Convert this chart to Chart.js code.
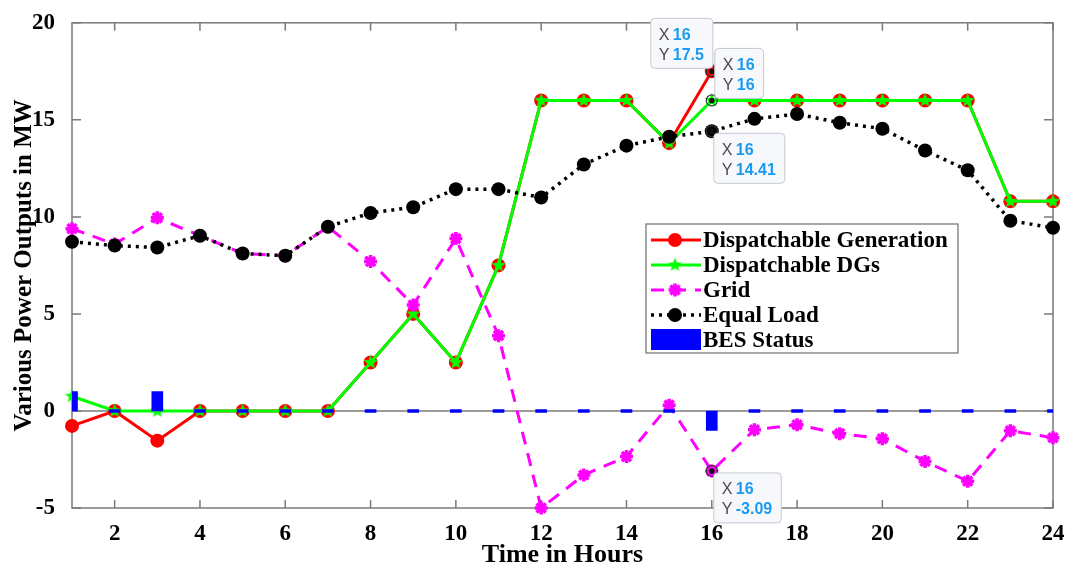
<!DOCTYPE html>
<html>
<head>
<meta charset="utf-8">
<script src="https://cdn.jsdelivr.net/npm/chart.js@4.4.1/dist/chart.umd.min.js"></script>
<style>
body { margin: 0; background: #fff; }
#wrap { width: 1069px; height: 568px; }
</style>
</head>
<body>
<div id="wrap"><canvas id="powerChart"></canvas></div>
<script>
const hours = [1, 2, 3, 4, 5, 6, 7, 8, 9, 10, 11, 12, 13, 14, 15, 16, 17, 18, 19, 20, 21, 22, 23, 24];
const dispGen = [-0.77, 0, -1.53, 0, 0, 0, 0, 2.5, 5, 2.5, 7.5, 16, 16, 16, 13.8, 17.5, 16, 16, 16, 16, 16, 16, 10.8, 10.8];
const dispDG = [0.76, 0, 0, 0, 0, 0, 0, 2.5, 5, 2.5, 7.5, 16, 16, 16, 13.8, 16, 16, 16, 16, 16, 16, 16, 10.8, 10.8];
const gridPower = [9.39, 8.6, 9.95, 9.03, 8.11, 8.0, 9.49, 7.7, 5.46, 8.88, 3.88, -5.0, -3.3, -2.35, 0.3, -3.09, -0.97, -0.71, -1.17, -1.43, -2.6, -3.62, -1.02, -1.38];
const equalLoad = [8.72, 8.52, 8.42, 9.03, 8.11, 8.0, 9.49, 10.2, 10.5, 11.43, 11.43, 11.0, 12.7, 13.67, 14.13, 14.41, 15.05, 15.3, 14.85, 14.54, 13.42, 12.4, 9.8, 9.44];
const besStatus = [1, 0, 1, 0, 0, 0, 0, 0, 0, 0, 0, 0, 0, 0, 0, -1, 0, 0, 0, 0, 0, 0, 0, 0];
const xTicks = [2, 4, 6, 8, 10, 12, 14, 16, 18, 20, 22, 24];
const yTicks = [-5, 0, 5, 10, 15, 20];
// data tips: dataset index, hour
const tipSeries = [0, 1, 3, 2];
const tipHour = 16;

const serif = '"Liberation Serif", "Times New Roman", serif';

function pts(arr) {
    return hours.map((h, i) => ({ x: h, y: arr[i] }));
}

function makePentagram(r, fill) {
    const c = document.createElement('canvas');
    const s = Math.ceil(r * 2 + 2);
    c.width = s; c.height = s;
    const g = c.getContext('2d');
    g.beginPath();
    for (let i = 0; i < 10; i++) {
        const rad = i % 2 === 0 ? r : r * 0.42;
        const a = -Math.PI / 2 + i * Math.PI / 5;
        g.lineTo(s / 2 + rad * Math.cos(a), s / 2 + rad * Math.sin(a));
    }
    g.closePath();
    g.fillStyle = fill;
    g.fill();
    return c;
}
const greenStar = makePentagram(7.5, '#00ff00');

function drawMarker(ctx, ds, x, y) {
    ctx.save();
    ctx.setLineDash([]);
    if (ds.pointStyle === 'circle') {
        ctx.beginPath();
        ctx.arc(x, y, ds.pointRadius, 0, Math.PI * 2);
        ctx.fillStyle = ds.pointBackgroundColor;
        ctx.fill();
    } else if (ds.pointStyle === 'star') {
        const r = ds.pointRadius;
        ctx.strokeStyle = ds.pointBorderColor;
        ctx.lineWidth = ds.pointBorderWidth;
        ctx.beginPath();
        for (let i = 0; i < 4; i++) {
            const a = i * Math.PI / 4;
            ctx.moveTo(x - r * Math.cos(a), y - r * Math.sin(a));
            ctx.lineTo(x + r * Math.cos(a), y + r * Math.sin(a));
        }
        ctx.stroke();
    } else if (ds.pointStyle instanceof HTMLCanvasElement) {
        const c = ds.pointStyle;
        ctx.drawImage(c, x - c.width / 2, y - c.height / 2);
    }
    ctx.restore();
}

const framePlugin = {
    id: 'frame',
    beforeDatasetsDraw(chart) {
        const { ctx, chartArea: a, scales: { x, y } } = chart;
        ctx.save();
        ctx.strokeStyle = '#7a7a7a';
        ctx.lineWidth = 1.5;
        const y0 = y.getPixelForValue(0);
        ctx.beginPath();
        ctx.moveTo(a.left, y0);
        ctx.lineTo(a.right, y0);
        ctx.stroke();
        ctx.strokeRect(a.left, a.top, a.right - a.left, a.bottom - a.top);
        ctx.beginPath();
        xTicks.forEach(v => {
            const px = x.getPixelForValue(v);
            ctx.moveTo(px, a.bottom); ctx.lineTo(px, a.bottom - 8);
            ctx.moveTo(px, a.top); ctx.lineTo(px, a.top + 8);
        });
        yTicks.forEach(v => {
            const py = y.getPixelForValue(v);
            ctx.moveTo(a.left, py); ctx.lineTo(a.left + 9, py);
            ctx.moveTo(a.right, py); ctx.lineTo(a.right - 9, py);
        });
        ctx.stroke();
        ctx.restore();
    }
};

const legendPlugin = {
    id: 'boxLegend',
    afterDraw(chart) {
        const ctx = chart.ctx;
        const left = 646, top = 224, w = 312, h = 129;
        ctx.save();
        ctx.fillStyle = '#fff';
        ctx.fillRect(left, top, w, h);
        ctx.strokeStyle = '#6e6e6e';
        ctx.lineWidth = 1.2;
        ctx.strokeRect(left, top, w, h);
        ctx.font = 'bold 23px ' + serif;
        ctx.textBaseline = 'middle';
        chart.data.datasets.forEach((ds, i) => {
            const ry = top + 16 + i * 25;
            if (ds.type === 'bar') {
                ctx.fillStyle = ds.backgroundColor;
                ctx.fillRect(left + 5, ry - 11, 50, 21);
            } else {
                ctx.strokeStyle = ds.borderColor;
                ctx.lineWidth = ds.borderWidth;
                ctx.setLineDash(ds.borderDash || []);
                ctx.beginPath();
                ctx.moveTo(left + 5, ry);
                ctx.lineTo(left + 55, ry);
                ctx.stroke();
                ctx.setLineDash([]);
                drawMarker(ctx, ds, left + 29, ry);
            }
            ctx.fillStyle = '#000';
            ctx.fillText(ds.label, left + 57, ry + 1);
        });
        ctx.restore();
    }
};

const tipOffsets = [[-61, -53], [3, -52], [2, 2], [2, 2]];

const tipPlugin = {
    id: 'dataTips',
    afterDraw(chart) {
        const { ctx, scales: { x, y } } = chart;
        const idx = hours.indexOf(tipHour);
        tipSeries.forEach((si, k) => {
            const ds = chart.data.datasets[si];
            const val = ds.data[idx].y;
            const px = x.getPixelForValue(tipHour);
            const py = y.getPixelForValue(val);
            ctx.save();
            ctx.beginPath();
            ctx.arc(px, py, 5.5, 0, Math.PI * 2);
            ctx.strokeStyle = '#333';
            ctx.lineWidth = 1.2;
            ctx.stroke();
            ctx.beginPath();
            ctx.arc(px, py, 2.8, 0, Math.PI * 2);
            ctx.fillStyle = '#111';
            ctx.fill();

            const xs = String(tipHour), ys = String(val);
            ctx.font = 'bold 16px "Liberation Sans", Arial, sans-serif';
            const tw = Math.max(ctx.measureText(xs).width, ctx.measureText(ys).width);
            const bw = 23 + tw + 8, bh = 50;
            const bx = px + tipOffsets[k][0], by = py + tipOffsets[k][1];
            ctx.beginPath();
            ctx.roundRect(bx, by, bw, bh, 4);
            ctx.fillStyle = '#f7f8fc';
            ctx.fill();
            ctx.strokeStyle = '#c6c8d0';
            ctx.lineWidth = 1;
            ctx.stroke();
            ctx.textBaseline = 'middle';
            ctx.font = '16px "Liberation Sans", Arial, sans-serif';
            ctx.fillStyle = '#4a4a4a';
            ctx.fillText('X', bx + 8, by + 17);
            ctx.fillText('Y', bx + 8, by + 37);
            ctx.font = 'bold 16px "Liberation Sans", Arial, sans-serif';
            ctx.fillStyle = '#1a9af0';
            ctx.fillText(xs, bx + 22, by + 17);
            ctx.fillText(ys, bx + 22, by + 37);
            ctx.restore();
        });
    }
};

const ctx = document.getElementById('powerChart').getContext('2d');
new Chart(ctx, {
    data: {
        datasets: [
            {
                type: 'line', label: 'Dispatchable Generation', data: pts(dispGen),
                borderColor: '#ff0000', borderWidth: 3, order: 5, clip: false,
                pointStyle: 'circle', pointRadius: 7, pointBackgroundColor: '#ff0000',
                pointBorderColor: '#ff0000', pointBorderWidth: 0
            },
            {
                type: 'line', label: 'Dispatchable DGs', data: pts(dispDG),
                borderColor: '#00ff00', borderWidth: 3, order: 4, clip: false,
                pointStyle: greenStar, pointRadius: 7
            },
            {
                type: 'line', label: 'Grid', data: pts(gridPower),
                borderColor: '#ff00ff', borderWidth: 3, borderDash: [13, 9], order: 3, clip: false,
                pointStyle: 'star', pointRadius: 6.5, pointBorderColor: '#ff00ff',
                pointBackgroundColor: '#ff00ff', pointBorderWidth: 3.5
            },
            {
                type: 'line', label: 'Equal Load', data: pts(equalLoad),
                borderColor: '#000', borderWidth: 3.5, borderDash: [3, 5], order: 2, clip: false,
                pointStyle: 'circle', pointRadius: 7, pointBackgroundColor: '#000',
                pointBorderColor: '#000', pointBorderWidth: 0
            },
            {
                type: 'bar', label: 'BES Status', data: pts(besStatus),
                backgroundColor: '#0000ff', barThickness: 11, minBarLength: 3,
                order: 1, clip: 0
            }
        ]
    },
    options: {
        responsive: true,
        maintainAspectRatio: false,
        animation: false,
        layout: { padding: { left: 0, right: 16, top: 17, bottom: 0 } },
        plugins: { legend: { display: false }, tooltip: { enabled: false } },
        elements: { line: { tension: 0 } },
        scales: {
            x: {
                type: 'linear', min: 1, max: 24, offset: false,
                afterBuildTicks: s => { s.ticks = xTicks.map(v => ({ value: v })); },
                afterFit: s => { s.height = 60; },
                grid: { display: false, offset: false }, border: { display: false },
                ticks: { color: '#000', padding: 4, maxRotation: 0, autoSkip: false,
                    font: { family: serif, size: 23, weight: 'bold' } },
                title: { display: true, text: 'Time in Hours', color: '#000',
                    padding: { top: 0, bottom: -3 },
                    font: { family: serif, size: 26, weight: 'bold' } }
            },
            y: {
                type: 'linear', min: -5, max: 20,
                afterBuildTicks: s => { s.ticks = yTicks.map(v => ({ value: v })); },
                afterFit: s => { s.width = 72; },
                grid: { display: false }, border: { display: false },
                ticks: { color: '#000', padding: 9,
                    font: { family: serif, size: 23, weight: 'bold' } },
                title: { display: true, text: 'Various Power Outputs in MW', color: '#000',
                    padding: { top: 10, bottom: 0 },
                    font: { family: serif, size: 25, weight: 'bold' } }
            }
        }
    },
    plugins: [framePlugin, legendPlugin, tipPlugin]
});
</script>
</body>
</html>
